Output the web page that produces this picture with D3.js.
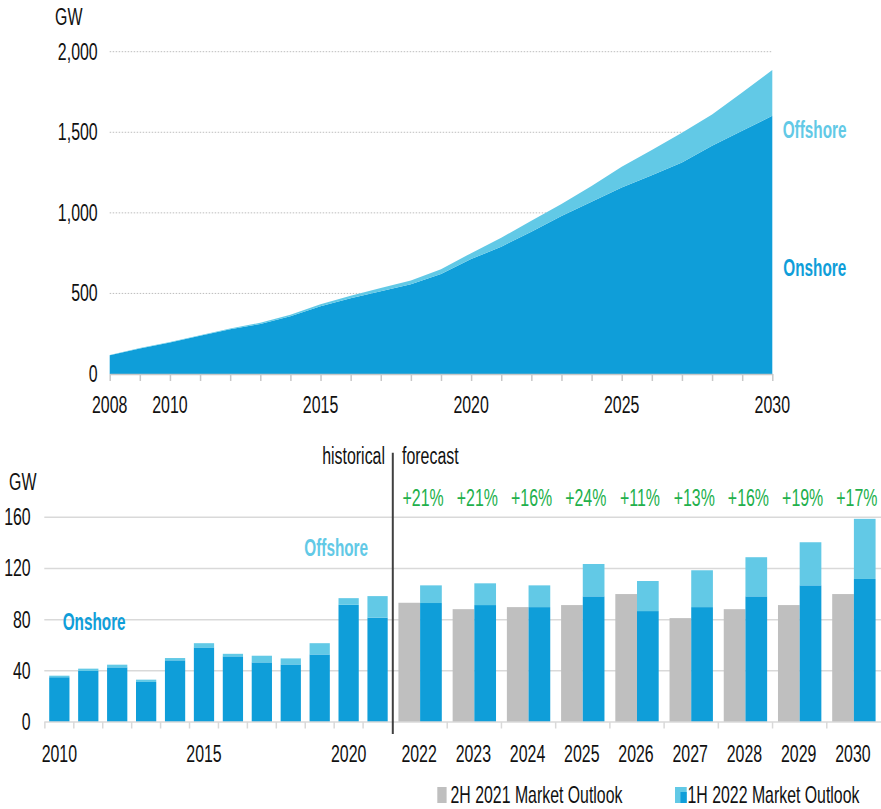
<!DOCTYPE html>
<html>
<head>
<meta charset="utf-8">
<script src="https://cdn.jsdelivr.net/npm/d3@7"></script>
<style>
  html, body { margin: 0; padding: 0; background: #fff; }
  svg { display: block; font-family: "Liberation Sans", Arial, sans-serif; }
</style>
</head>
<body>
<svg id="chart" width="881" height="809"></svg>
<script>
// ---- Cumulative installed capacity (GW), 2008-2030 ----
const cumYears = d3.range(2008, 2031);
const cumOnshore = [116.5, 159, 196, 237, 277.5, 311, 358.5, 421, 470.5, 514, 557, 621,
                    713, 790, 883, 980, 1069, 1158, 1234, 1313, 1416, 1509, 1602];
const cumOffshore = [1.5, 2, 3, 4, 5.5, 7, 8.5, 12, 14.5, 19, 23, 29,
                     37, 55, 68, 75, 97, 128, 156, 184, 195, 238, 284];
const cumTickLabels = [2008, 2010, 2015, 2020, 2025, 2030];
const cumYTicks = [0, 500, 1000, 1500, 2000];

// ---- Annual additions (GW) ----
const histYears = d3.range(2010, 2022);
const histOnshore = [35.0, 39.9, 42.7, 31.3, 48.2, 58.3, 51.3, 46.6, 45.0, 52.8, 91.6, 81.6];
const histOffshore = [1.2, 1.8, 2.1, 1.8, 1.8, 3.3, 2.0, 5.2, 4.7, 8.8, 5.2, 16.8];
const histTickLabels = [2010, 2015, 2020];

const fcYears = d3.range(2022, 2031);
const fcPrevOutlook = [93.2, 88.2, 89.8, 91.4, 100.0, 81.2, 88.2, 91.4, 100.0];   // 2H 2021 Market Outlook
const fcOnshore = [93.0, 91.4, 89.8, 98.2, 86.7, 89.8, 98.2, 106.8, 111.8];      // 1H 2022 Market Outlook
const fcOffshore = [13.8, 17.0, 17.0, 25.3, 23.5, 28.8, 30.6, 33.7, 47.0];
const fcChange = ["+21%", "+21%", "+16%", "+24%", "+11%", "+13%", "+16%", "+19%", "+17%"];
const annualYTicks = [0, 40, 80, 120, 160];

const legendLabels = ["2H 2021 Market Outlook", "1H 2022 Market Outlook"];

// ---- Styling ----
const C_ON = "#0f9ed9", C_OFF = "#62c9e6", C_GREY = "#bfbfbf", C_GREEN = "#22b04b";
const C_TEXT = "#111", C_GRID = "#d9d9d9";
const FS = 24.5, SX = 0.65, SXB = 0.625;

const svg = d3.select("#chart");

// Narrow text: drawn at full height and squeezed horizontally.
function txt(sel, s, x, y, o = {}) {
  return sel.append("text")
    .attr("transform", `translate(${x},${y}) scale(${o.sx || (o.weight === "bold" ? SXB : SX)},1)`)
    .attr("text-anchor", o.anchor || "start")
    .attr("font-weight", o.weight || "normal")
    .attr("fill", o.fill || C_TEXT)
    .style("font-size", (o.size || FS) + "px")
    .text(s);
}

// ================= Top: cumulative area chart =================
const xTop = d3.scaleLinear().domain([2008, 2030]).range([109.7, 772.3]);
const yTop = d3.scaleLinear().domain([0, 2000]).range([374, 51.7]);
const gTop = svg.append("g");

// dotted gridlines
gTop.selectAll("line.grid").data(cumYTicks.filter(d => d > 0)).join("line")
  .attr("x1", xTop.range()[0]).attr("x2", xTop.range()[1])
  .attr("y1", d => yTop(d)).attr("y2", d => yTop(d))
  .attr("stroke", "#bdbdbd").attr("stroke-width", 1).attr("stroke-dasharray", "1.5,1.5");

const cumRows = cumYears.map((y, i) => ({ year: y, onshore: cumOnshore[i], offshore: cumOffshore[i] }));
const cumStack = d3.stack().keys(["onshore", "offshore"])(cumRows);
const area = d3.area().x(d => xTop(d.data.year)).y0(d => yTop(d[0])).y1(d => yTop(d[1]));
gTop.selectAll("path.layer").data(cumStack).join("path")
  .attr("d", area)
  .attr("fill", d => d.key === "onshore" ? C_ON : C_OFF);

// x axis with a tick every year
const axTop = gTop.append("g").attr("transform", `translate(0,${yTop(0)})`)
  .call(d3.axisBottom(xTop).tickValues(cumYears).tickSize(7).tickSizeOuter(0).tickFormat(""));
axTop.select(".domain").attr("stroke", "#c8c8c8").attr("stroke-width", 1.5);
axTop.selectAll(".tick line").attr("stroke", "#c8c8c8").attr("stroke-width", 1.5);

cumTickLabels.forEach(y => txt(gTop, String(y), xTop(y), 413, { anchor: "middle" }));
const fmtK = d3.format(",");
cumYTicks.forEach(v => txt(gTop, fmtK(v), 97.7, yTop(v) + 8, { anchor: "end" }));
txt(gTop, "GW", 55, 25);

txt(gTop, "Offshore", 782.7, 138.3, { weight: "bold", fill: C_OFF });
txt(gTop, "Onshore", 783.3, 275.5, { weight: "bold", fill: C_ON });

// ================= Bottom: annual additions bar chart =================
const yB = d3.scaleLinear().domain([0, 160]).range([722, 517.3]);
const xHist = d3.scaleBand().domain(histYears).range([44.3, 392.6]).paddingInner(0.3).paddingOuter(0.17);
const xFc = d3.scaleBand().domain(fcYears).range([393, 881]).paddingInner(0.2).paddingOuter(0.1);
const xSub = d3.scaleBand().domain(["prev", "curr"]).range([0, xFc.bandwidth()]);
const gB = svg.append("g");

// gridlines
gB.selectAll("line.grid").data(annualYTicks.filter(d => d > 0)).join("line")
  .attr("x1", 44.3).attr("x2", 881)
  .attr("y1", d => yB(d)).attr("y2", d => yB(d))
  .attr("stroke", C_GRID).attr("stroke-width", 1.5);

// historical stacked bars
const histRows = histYears.map((y, i) => ({ year: y, onshore: histOnshore[i], offshore: histOffshore[i] }));
const histStack = d3.stack().keys(["onshore", "offshore"])(histRows);
gB.selectAll("g.hist").data(histStack).join("g")
  .attr("fill", d => d.key === "onshore" ? C_ON : C_OFF)
  .selectAll("rect").data(d => d).join("rect")
  .attr("x", d => xHist(d.data.year))
  .attr("width", xHist.bandwidth())
  .attr("y", d => yB(d[1]))
  .attr("height", d => yB(d[0]) - yB(d[1]));

// forecast: previous outlook (grey) next to current outlook (stacked blue)
gB.selectAll("rect.prev").data(fcYears).join("rect")
  .attr("x", y => xFc(y) + xSub("prev"))
  .attr("width", xSub.bandwidth())
  .attr("y", (y, i) => yB(fcPrevOutlook[i]))
  .attr("height", (y, i) => yB(0) - yB(fcPrevOutlook[i]))
  .attr("fill", C_GREY);

const fcRows = fcYears.map((y, i) => ({ year: y, onshore: fcOnshore[i], offshore: fcOffshore[i] }));
const fcStack = d3.stack().keys(["onshore", "offshore"])(fcRows);
gB.selectAll("g.fc").data(fcStack).join("g")
  .attr("fill", d => d.key === "onshore" ? C_ON : C_OFF)
  .selectAll("rect").data(d => d).join("rect")
  .attr("x", d => xFc(d.data.year) + xSub("curr"))
  .attr("width", xSub.bandwidth())
  .attr("y", d => yB(d[1]))
  .attr("height", d => yB(d[0]) - yB(d[1]));

// baseline and category ticks
gB.append("line").attr("x1", 44.3).attr("x2", 881).attr("y1", yB(0)).attr("y2", yB(0))
  .attr("stroke", C_GRID).attr("stroke-width", 1.5);
const histEdges = histYears.map(y => xHist(y) - xHist.step() * xHist.paddingInner() / 2);
const fcEdges = fcYears.slice(1).map(y => xFc(y) - xFc.step() * xFc.paddingInner() / 2);
gB.selectAll("line.tick").data(histEdges.concat(fcEdges)).join("line")
  .attr("x1", d => d).attr("x2", d => d)
  .attr("y1", yB(0)).attr("y2", yB(0) + 6.5)
  .attr("stroke", C_GRID).attr("stroke-width", 1.5);

// axis labels
histTickLabels.forEach(y => txt(gB, String(y), xHist(y) + xHist.bandwidth() / 2, 762, { anchor: "middle" }));
fcYears.forEach(y => txt(gB, String(y), xFc(y) + xFc.bandwidth() / 2 - 1, 762, { anchor: "middle" }));
annualYTicks.forEach(v => txt(gB, String(v), 30.7, yB(v) + 8, { anchor: "end" }));
txt(gB, "GW", 9, 490);

// change vs previous outlook
fcYears.forEach((y, i) => txt(gB, fcChange[i], xFc(y) + xFc.bandwidth() / 2 + 3, 506, { anchor: "middle", fill: C_GREEN }));

// historical / forecast divider
gB.append("line").attr("x1", 392.8).attr("x2", 392.8).attr("y1", 452.7).attr("y2", 734)
  .attr("stroke", "#404040").attr("stroke-width", 2);
txt(gB, "historical", 385, 463.5, { anchor: "end" });
txt(gB, "forecast", 402, 463.5);

txt(gB, "Onshore", 62.7, 630, { weight: "bold", fill: C_ON });
txt(gB, "Offshore", 304.3, 556, { weight: "bold", fill: C_OFF });

// legend (kept clear of the bottom edge)
const gL = svg.append("g");
const LY = 803;
gL.append("rect").attr("x", 437.3).attr("y", LY - 16).attr("width", 9.3).attr("height", 16).attr("fill", C_GREY);
txt(gL, legendLabels[0], 450.5, LY, { size: 23, sx: 0.69 });
gL.append("rect").attr("x", 675).attr("y", LY - 16).attr("width", 11.7).attr("height", 16).attr("fill", C_OFF);
gL.append("rect").attr("x", 680.5).attr("y", LY - 11).attr("width", 6.2).attr("height", 11).attr("fill", C_ON);
txt(gL, legendLabels[1], 687.5, LY, { size: 23, sx: 0.69 });
</script>
</body>
</html>
